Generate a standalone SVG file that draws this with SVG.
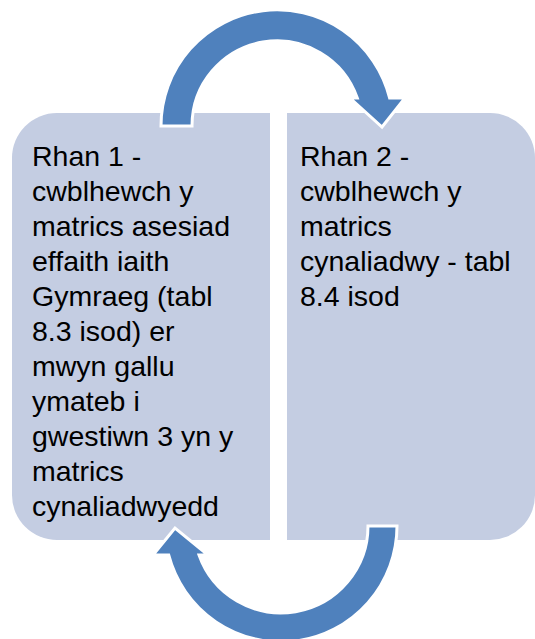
<svg xmlns="http://www.w3.org/2000/svg" width="535" height="639" viewBox="0 0 535 639">
<style>
.box{fill:#C4CDE2;stroke:none}
.arrow{fill:#4F81BD;stroke:#FFFFFF;stroke-width:3;stroke-linejoin:miter}
.lbl{font-family:"Liberation Sans",Arial,sans-serif;font-size:28.5px;fill:#000000}
</style>
<rect width="535" height="639" fill="#FFFFFF"/>
<g id="node-rhan1">
<path class="box" d="M57 113 H270 V540 H57 A45 45 0 0 1 12 495 V158 A45 45 0 0 1 57 113 Z"/>
<text class="lbl" x="32" y="166">
<tspan x="32" y="166">Rhan 1 -</tspan>
<tspan x="32" y="201">cwblhewch y</tspan>
<tspan x="32" y="236">matrics asesiad</tspan>
<tspan x="32" y="271">effaith iaith</tspan>
<tspan x="32" y="306">Gymraeg (tabl</tspan>
<tspan x="32" y="341">8.3 isod) er</tspan>
<tspan x="32" y="376">mwyn gallu</tspan>
<tspan x="32" y="411">ymateb i</tspan>
<tspan x="32" y="446">gwestiwn 3 yn y</tspan>
<tspan x="32" y="481">matrics</tspan>
<tspan x="32" y="516">cynaliadwyedd</tspan>
</text>
</g>
<g id="node-rhan2">
<path class="box" d="M287 113 H490 A45 45 0 0 1 535 158 V495 A45 45 0 0 1 490 540 H287 Z"/>
<text class="lbl">
<tspan x="300" y="166">Rhan 2 -</tspan>
<tspan x="300" y="201">cwblhewch y</tspan>
<tspan x="300" y="236">matrics</tspan>
<tspan x="300" y="271">cynaliadwy - tabl</tspan>
<tspan x="300" y="306">8.4 isod</tspan>
</text>
</g>
<g id="connectors">
<path id="arrow-top" class="arrow" d="M161 126 A116 116 0 0 1 389.6 98 L405 98 L382 127 L350 98 L357.3 98 A85 85 0 0 0 192 126 Z"/>
<path id="arrow-bottom" class="arrow" d="M397 526 A116 116 0 0 1 168.7 555 L153 555 L175 528 L208 555 L199 555 A87 87 0 0 0 368 526 Z"/>
</g>
</svg>
